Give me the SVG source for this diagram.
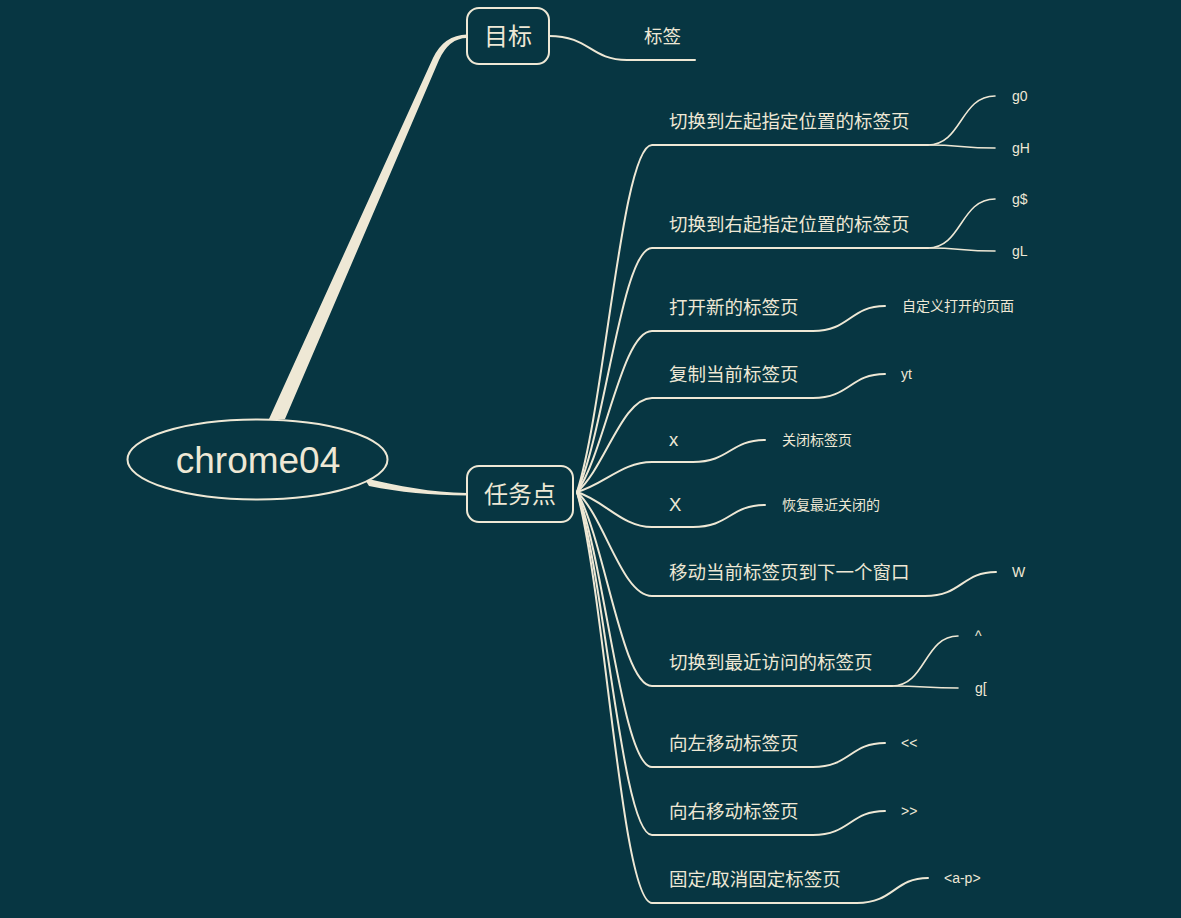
<svg xmlns="http://www.w3.org/2000/svg" width="1181" height="918" viewBox="0 0 1181 918">
<style>
.bg{fill:#073642}
.ln{fill:none;stroke:#eee8d5;stroke-width:2;stroke-linecap:round}
.sl{fill:none;stroke:#eee8d5;stroke-width:1.6;stroke-linecap:round}
.th{fill:#eee8d5;stroke:none}
.box{fill:#073642;stroke:#eee8d5;stroke-width:2}
.t{fill:#eee8d5;font-family:"Liberation Sans","Noto Sans CJK SC",sans-serif}
.root{font-size:37px;text-anchor:middle}
.main{font-size:24px;text-anchor:middle}
.c{font-size:18.5px}
.s{font-size:14px}
</style>
<rect class="bg" x="0" y="0" width="1181" height="918"/>
<g id="connectors">
  <path class="th" d="M269 419 L433 58 Q444 35 467 34.5 L467 38 Q449 38 439 60 L285 419 Z"/>
  <path class="th" d="M364 478 C400 486 430 492.5 467 493 L467 495.5 C430 495.5 400 492 369 486 Z"/>
  <path class="ln" d="M549 36 C590 36 590 60 627 60 L695 60"/>
  <path class="ln" d="M577 492 C605 405 622 145 652 145 L928 145"/>
  <path class="sl" d="M928 145 C962 145 960 96 995 96"/>
  <path class="sl" d="M928 145 C962 145 960 148 995 148"/>
  <path class="ln" d="M577 492 C605 431 622 248 652 248 L928 248"/>
  <path class="sl" d="M928 248 C962 248 960 199 995 199"/>
  <path class="sl" d="M928 248 C962 248 960 251 995 251"/>
  <path class="ln" d="M577 492 C605 452 622 331 652 331 L813 331 C850 331 850 306 885 306"/>
  <path class="ln" d="M577 492 C605 468 622 398 652 398 L813 398 C850 398 850 374 885 374"/>
  <path class="ln" d="M577 492 C605 484 622 462 652 462 L693 462 C730 462 730 440 765 440"/>
  <path class="ln" d="M577 492 C605 501 622 527 652 527 L693 527 C730 527 730 505 765 505"/>
  <path class="ln" d="M577 492 C605 518 622 596 652 596 L925 596 C962 596 962 572 996 572"/>
  <path class="ln" d="M577 492 C605 541 622 686 652 686 L892 686"/>
  <path class="sl" d="M892 686 C926 686 924 636 958 636"/>
  <path class="sl" d="M892 686 C926 686 924 688 958 688"/>
  <path class="ln" d="M577 492 C605 561 622 767 652 767 L813 767 C850 767 850 743 885 743"/>
  <path class="ln" d="M577 492 C605 578 622 835 652 835 L813 835 C850 835 850 811 885 811"/>
  <path class="ln" d="M577 492 C605 595 622 903 652 903 L857 903 C894 903 894 878 928 878"/>
</g>
<g id="root">
  <ellipse class="box" cx="257.5" cy="459.5" rx="130" ry="40"/>
  <text class="t root" x="258" y="473">chrome04</text>
</g>
<g id="goal">
  <rect class="box" x="467" y="8" width="82" height="56" rx="12"/>
  <text class="t main" x="508" y="45">目标</text>
</g>
<g id="goal-tag"><text class="t c" x="644" y="43">标签</text></g>
<g id="tasks">
  <rect class="box" x="467" y="466" width="106" height="56" rx="12"/>
  <text class="t main" x="520" y="503">任务点</text>
</g>
<g id="n1"><text class="t c" x="669" y="128">切换到左起指定位置的标签页</text></g>
<g id="n1a"><text class="t s" x="1012" y="101">g0</text></g>
<g id="n1b"><text class="t s" x="1012" y="153">gH</text></g>
<g id="n2"><text class="t c" x="669" y="231">切换到右起指定位置的标签页</text></g>
<g id="n2a"><text class="t s" x="1012" y="204">g$</text></g>
<g id="n2b"><text class="t s" x="1012" y="256">gL</text></g>
<g id="n3"><text class="t c" x="669" y="314">打开新的标签页</text></g>
<g id="n3a"><text class="t s" x="902" y="311">自定义打开的页面</text></g>
<g id="n4"><text class="t c" x="669" y="381">复制当前标签页</text></g>
<g id="n4a"><text class="t s" x="901" y="379">yt</text></g>
<g id="n5"><text class="t c" x="669" y="446">x</text></g>
<g id="n5a"><text class="t s" x="782" y="445">关闭标签页</text></g>
<g id="n6"><text class="t c" x="669" y="511">X</text></g>
<g id="n6a"><text class="t s" x="782" y="510">恢复最近关闭的</text></g>
<g id="n7"><text class="t c" x="669" y="579">移动当前标签页到下一个窗口</text></g>
<g id="n7a"><text class="t s" x="1012" y="577">W</text></g>
<g id="n8"><text class="t c" x="669" y="669">切换到最近访问的标签页</text></g>
<g id="n8a"><text class="t s" x="975" y="641">^</text></g>
<g id="n8b"><text class="t s" x="975" y="693">g[</text></g>
<g id="n9"><text class="t c" x="669" y="750">向左移动标签页</text></g>
<g id="n9a"><text class="t s" x="901" y="748">&lt;&lt;</text></g>
<g id="n10"><text class="t c" x="669" y="818">向右移动标签页</text></g>
<g id="n10a"><text class="t s" x="901" y="816">&gt;&gt;</text></g>
<g id="n11"><text class="t c" x="669" y="886">固定/取消固定标签页</text></g>
<g id="n11a"><text class="t s" x="944" y="883">&lt;a-p&gt;</text></g>
</svg>
